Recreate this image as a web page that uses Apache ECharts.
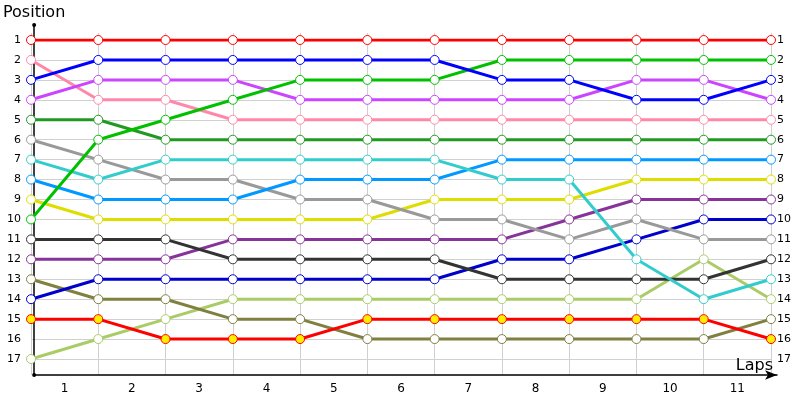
<!DOCTYPE html>
<html>
<head>
<meta charset="utf-8">
<script src="https://cdn.jsdelivr.net/npm/echarts@6/dist/echarts.min.js"></script>
<style>
  html, body { margin: 0; padding: 0; background: #fff; }
  #chart { width: 800px; height: 400px; }
</style>
</head>
<body>
<div id="chart"></div>
<script>
// lap labels (between the check points) and positions
const laps = ['1', '2', '3', '4', '5', '6', '7', '8', '9', '10', '11']
const positions = [1, 2, 3, 4, 5, 6, 7, 8, 9, 10, 11, 12, 13, 14, 15, 16, 17]

// position of each car at the 12 check points
const carRed = [1, 1, 1, 1, 1, 1, 1, 1, 1, 1, 1, 1]
const carBlue = [3, 2, 2, 2, 2, 2, 2, 3, 3, 4, 4, 3]
const carGreen = [10, 6, 5, 4, 3, 3, 3, 2, 2, 2, 2, 2]
const carViolet = [4, 3, 3, 3, 4, 4, 4, 4, 4, 3, 3, 4]
const carPink = [2, 4, 4, 5, 5, 5, 5, 5, 5, 5, 5, 5]
const carDarkGreen = [5, 5, 6, 6, 6, 6, 6, 6, 6, 6, 6, 6]
const carCyan = [7, 8, 7, 7, 7, 7, 7, 8, 8, 12, 14, 13]
const carSky = [8, 9, 9, 9, 8, 8, 8, 7, 7, 7, 7, 7]
const carGrey = [6, 7, 8, 8, 9, 9, 10, 10, 11, 10, 11, 11]
const carYellow = [9, 10, 10, 10, 10, 10, 9, 9, 9, 8, 8, 8]
const carBlack = [11, 11, 11, 12, 12, 12, 12, 13, 13, 13, 13, 12]
const carPlum = [12, 12, 12, 11, 11, 11, 11, 11, 10, 9, 9, 9]
const carNavy = [14, 13, 13, 13, 13, 13, 13, 12, 12, 11, 10, 10]
const carOlive = [13, 14, 14, 15, 15, 16, 16, 16, 16, 16, 16, 15]
const carLime = [17, 16, 15, 14, 14, 14, 14, 14, 14, 14, 12, 14]
const carRedYellow = [15, 15, 16, 16, 16, 15, 15, 15, 15, 15, 15, 16]

const cars = [
  { data: carLime, color: '#aacc66' },
  { data: carOlive, color: '#808040' },
  { data: carNavy, color: '#0000cc' },
  { data: carPlum, color: '#883399' },
  { data: carBlack, color: '#333333' },
  { data: carYellow, color: '#dddd00' },
  { data: carGrey, color: '#999999' },
  { data: carSky, color: '#0099ff' },
  { data: carCyan, color: '#33cccc' },
  { data: carDarkGreen, color: '#229922' },
  { data: carPink, color: '#ff88aa' },
  { data: carViolet, color: '#cc44ff' },
  { data: carGreen, color: '#00c000' },
  { data: carBlue, color: '#0000ff' },
  { data: carRedYellow, color: '#ff0000', fill: '#ffee00' },
  { data: carRed, color: '#ff0000' }
]

const myChart = echarts.init(document.getElementById('chart'))
const font = 'DejaVu Sans'

const option = {
  animation: false,
  textStyle: { fontFamily: font },
  grid: [
    // data area
    { left: 31, right: 29, top: 40, bottom: 41 },
    // vertical lines + lap labels
    { left: 31, right: 29, top: 33, bottom: 25 },
    // axis lines
    { left: 31, right: 23, top: 25, bottom: 25 }
  ],
  xAxis: [
    { gridIndex: 0, type: 'value', min: 0, max: 11, show: false },
    {
      gridIndex: 1,
      type: 'category',
      data: laps,
      boundaryGap: true,
      axisLine: { show: false },
      axisTick: { show: false },
      axisLabel: { margin: 8, fontSize: 12, color: '#000' },
      splitLine: { show: true, lineStyle: { color: '#d0d0d0', width: 1 } }
    },
    {
      gridIndex: 2,
      type: 'value',
      min: 0,
      max: 1,
      axisLine: {
        show: true,
        onZero: false,
        lineStyle: { color: '#000', width: 1.5 },
        symbol: ['none', 'arrow'],
        symbolSize: [7, 12]
      },
      axisTick: { show: false },
      axisLabel: { show: false },
      splitLine: { show: false },
      name: 'Laps',
      nameLocation: 'end',
      nameGap: -4,
      nameTextStyle: { fontSize: 16, color: '#000', align: 'right', verticalAlign: 'bottom', padding: [0, 0, 1, 0] }
    }
  ],
  yAxis: [
    {
      gridIndex: 0,
      type: 'value',
      inverse: true,
      min: 1,
      max: 17,
      interval: 1,
      axisLine: { show: false },
      axisTick: { show: false },
      axisLabel: { margin: 10, fontSize: 11, color: '#000' },
      splitLine: { show: true, lineStyle: { color: '#d0d0d0', width: 1 } }
    },
    {
      gridIndex: 0,
      type: 'value',
      position: 'right',
      inverse: true,
      min: 1,
      max: 17,
      interval: 1,
      axisLine: { show: false },
      axisTick: { show: false },
      axisLabel: { margin: 6, fontSize: 11, color: '#000' },
      splitLine: { show: false }
    },
    { gridIndex: 1, type: 'value', show: false },
    {
      gridIndex: 2,
      type: 'value',
      min: 0,
      max: 1,
      axisLine: {
        show: true,
        onZero: false,
        lineStyle: { color: '#000', width: 1.5 },
        symbol: ['circle', 'circle'],
        symbolSize: [4, 4]
      },
      axisTick: { show: false },
      axisLabel: { show: false },
      splitLine: { show: false },
      name: 'Position',
      nameLocation: 'end',
      nameGap: 4,
      nameTextStyle: { fontSize: 16, color: '#000', align: 'center', verticalAlign: 'bottom' }
    }
  ],
  series: cars.map(function(c) {
    return {
      type: 'line',
      xAxisIndex: 0,
      yAxisIndex: 0,
      data: c.data.map(function(p, i) { return [i, p] }),
      symbol: 'circle',
      symbolSize: 9,
      showSymbol: true,
      lineStyle: { color: c.color, width: 3 },
      itemStyle: { color: c.fill || '#fff', borderColor: c.color, borderWidth: 1 }
    }
  })
}

myChart.setOption(option)
</script>
</body>
</html>
